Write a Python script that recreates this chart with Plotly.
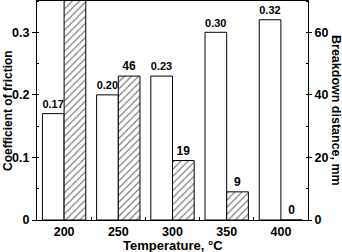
import plotly.graph_objects as go

temps = ["200", "250", "300", "350", "400"]
friction = [0.17, 0.20, 0.23, 0.30, 0.32]
friction_labels = ["0.17", "0.20", "0.23", "0.30", "0.32"]
breakdown = [75, 46, 19, 9, 0]
breakdown_labels = ["", "46", "19", "9", "0"]

FONT = "Liberation Sans, Arial, sans-serif"

W, H = 342, 252
l, r, t, b = 37, 34, 1, 32
pw, ph = W - l - r, H - t - b


def px2paper(px, py):
    return (px - l) / pw, (H - b - py) / ph


fig = go.Figure()
fig.add_trace(go.Bar(
    x=temps, y=friction, text=friction_labels, textposition="outside",
    textfont=dict(family=FONT, size=12, color="black"),
    marker=dict(color="white", line=dict(color="black", width=1)),
    offsetgroup="a", yaxis="y", cliponaxis=True, texttemplate="<b>%{text}</b>",
))
fig.add_trace(go.Bar(
    x=temps, y=breakdown, text=breakdown_labels, textposition="outside",
    textfont=dict(family=FONT, size=12, color="black"),
    marker=dict(color="white", line=dict(color="black", width=1),
                pattern=dict(shape="/", fgcolor="black", bgcolor="white", size=5, solidity=0.25)),
    offsetgroup="b", yaxis="y2", cliponaxis=True, texttemplate="<b>%{text}</b>",
))

ann = []
for text, px, py, ang, fs in [
    ("<b>Coefficient of friction</b>", 8, 111, -90, 12),
    ("<b>Breakdown distance, mm</b>", 336, 110, 90, 12.5),
    ("<b>Temperature, °C</b>", 173, 245, 0, 13),
]:
    x, y = px2paper(px, py)
    ann.append(dict(text=text, x=x, y=y, xref="paper", yref="paper", showarrow=False,
                    textangle=ang, font=dict(family=FONT, size=fs),
                    xanchor="center", yanchor="middle"))

fig.update_layout(
    width=W, height=H,
    margin=dict(l=l, r=r, t=t, b=b, autoexpand=False),
    plot_bgcolor="white", paper_bgcolor="white",
    barmode="group", bargap=0.2, bargroupgap=0,
    showlegend=False,
    font=dict(family=FONT, size=12.5, color="black"),
    xaxis=dict(
        type="category", range=[-0.5, 4.5], showline=True, linecolor="black", linewidth=1,
        mirror=True, ticks="inside", tickson="boundaries", ticklen=3, tickcolor="black",
        tickfont=dict(family=FONT, size=12.5), showgrid=False, automargin=False,
        tickvals=temps, ticktext=["<b>%s</b>" % t for t in temps],
    ),
    yaxis=dict(
        range=[0, 0.35], tickvals=[0, 0.1, 0.2, 0.3],
        ticktext=["<b>0</b>", "<b>0.1</b>", "<b>0.2</b>", "<b>0.3</b>"],
        tickfont=dict(family=FONT, size=12.5),
        showline=True, linecolor="black", linewidth=1, ticks="outside", ticklen=4,
        tickcolor="black", showgrid=False, zeroline=False, automargin=False,
        minor=dict(ticks="inside", ticklen=2, dtick=0.05, tick0=0, tickcolor="black"),
    ),
    yaxis2=dict(
        range=[0, 70], overlaying="y", side="right",
        tickvals=[0, 20, 40, 60], ticktext=["<b>0</b>", "<b>20</b>", "<b>40</b>", "<b>60</b>"],
        tickfont=dict(family=FONT, size=12.5),
        showline=True, linecolor="black", linewidth=1, ticks="outside", ticklen=3,
        tickcolor="black", showgrid=False, zeroline=False, automargin=False,
        minor=dict(ticks="inside", ticklen=2, dtick=10, tick0=0, tickcolor="black"),
    ),
    annotations=ann,
)

fig.write_html("out.html", config={"displayModeBar": False},
               post_script="document.body.style.margin='0';document.body.style.padding='0';")
